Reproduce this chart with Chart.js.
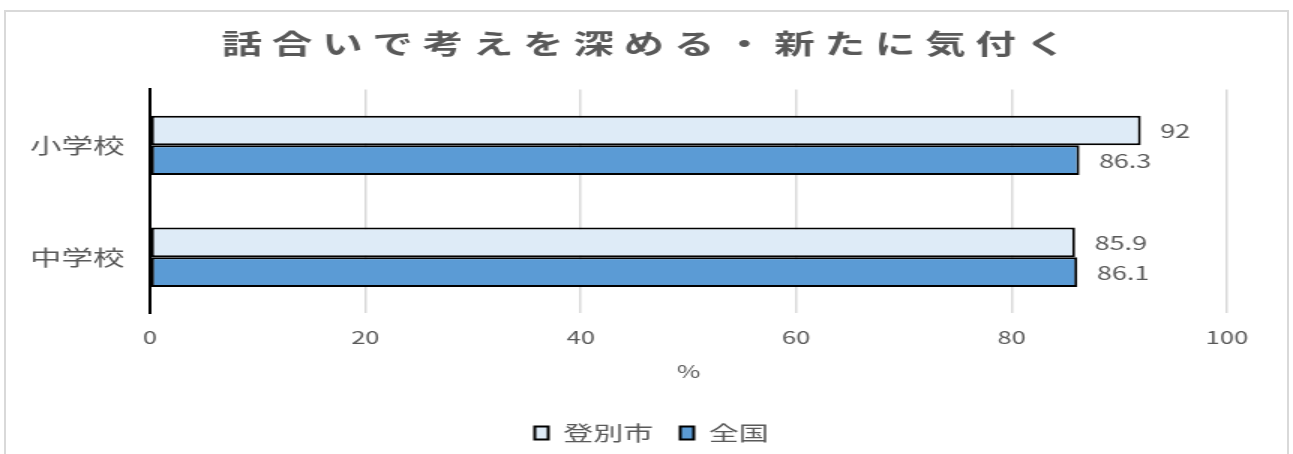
<!DOCTYPE html>
<html lang="ja">
<head>
<meta charset="UTF-8">
<title>話合いで考えを深める・新たに気付く</title>
<script src="https://cdn.jsdelivr.net/npm/chart.js"></script>
<style>
  html, body { margin: 0; padding: 0; background: #fff; }
  body { width: 1293px; height: 454px; position: relative; overflow: hidden; }
  .marco { position: absolute; left: 4px; top: 10px; width: 1281px; height: 470px; border: 2px solid #d9d9d9; }
  #grafico { position: absolute; left: 0; top: 0; }
</style>
</head>
<body>
<div class="marco"></div>
<!-- el lienzo se dibuja estrecho y se estira a lo ancho, como la imagen original -->
<canvas id="grafico" width="862" height="454" style="width:1293px;height:454px"></canvas>
<script>
const titulo = '話合いで考えを深める・新たに気付く';
const categorias = ['小学校', '中学校'];
const series = ['登別市', '全国'];
const valoresNoboribetsu = [92, 85.9];
const valoresNacional = [86.3, 86.1];
const ejeMin = 0;
const ejeMax = 100;
const ejePaso = 20;
const tituloEje = '%';

const fuente = "'Noto Sans CJK JP', 'Noto Sans', sans-serif";
const gris = '#595959';

// Título con espaciado entre letras y leyenda algo corrida (como en Excel)
const ajustesExcel = {
  id: 'ajustesExcel',
  afterInit(chart) {
    const envolver = (bloque, fn) => {
      if (!bloque) return;
      const dibujar = bloque.draw.bind(bloque);
      bloque.draw = function (area) {
        chart.ctx.save();
        fn(chart.ctx);
        dibujar(area);
        chart.ctx.restore();
      };
    };
    envolver(chart.titleBlock, (ctx) => { ctx.letterSpacing = '6.5px'; ctx.translate(22, 0); });
    envolver(chart.legend, (ctx) => { ctx.translate(24, 0); });
  }
};

// Etiquetas de valor a la derecha de cada barra
const etiquetasValores = {
  id: 'etiquetasValores',
  afterDatasetsDraw(chart) {
    const ctx = chart.ctx;
    ctx.save();
    ctx.font = '18px ' + fuente;
    ctx.fillStyle = gris;
    ctx.textAlign = 'left';
    ctx.textBaseline = 'middle';
    chart.data.datasets.forEach((ds, i) => {
      chart.getDatasetMeta(i).data.forEach((barra, j) => {
        ctx.fillText(String(ds.data[j]), barra.x + 13, barra.y + 1);
      });
    });
    ctx.restore();
  }
};

new Chart(document.getElementById('grafico').getContext('2d'), {
  type: 'bar',
  data: {
    labels: categorias,
    datasets: [
      {
        label: series[0],
        data: valoresNoboribetsu,
        backgroundColor: '#deebf7',
        borderColor: '#000000',
        borderWidth: 2,
        borderSkipped: false,
        categoryPercentage: 0.53,
        barPercentage: 1
      },
      {
        label: series[1],
        data: valoresNacional,
        backgroundColor: '#5b9bd5',
        borderColor: '#000000',
        borderWidth: 2,
        borderSkipped: false,
        categoryPercentage: 0.53,
        barPercentage: 1
      }
    ]
  },
  options: {
    indexAxis: 'y',
    responsive: false,
    animation: false,
    devicePixelRatio: 1,
    layout: { padding: { left: 3, right: 44, top: 0, bottom: 1 } },
    scales: {
      x: {
        min: ejeMin,
        max: ejeMax,
        ticks: { stepSize: ejePaso, padding: 14, color: gris, font: { family: fuente, size: 17 } },
        grid: { color: '#d9d9d9', lineWidth: 1.5, drawTicks: false },
        border: { display: false },
        title: {
          display: true,
          text: tituloEje,
          color: gris,
          font: { family: fuente, size: 17 },
          padding: { top: 0, bottom: 23 }
        }
      },
      y: {
        ticks: { padding: 17, color: gris, font: { family: fuente, size: 21 } },
        grid: { display: false, drawTicks: false },
        border: { display: true, color: '#000000', width: 2 }
      }
    },
    plugins: {
      title: {
        display: true,
        text: titulo,
        color: gris,
        font: { family: fuente, size: 27, weight: 'bold' },
        padding: { top: 28, bottom: 29 }
      },
      legend: {
        position: 'bottom',
        labels: {
          color: gris,
          font: { family: fuente, size: 20 },
          boxWidth: 9,
          boxHeight: 13,
          padding: 18
        }
      },
      tooltip: { enabled: false }
    }
  },
  plugins: [ajustesExcel, etiquetasValores]
});
</script>
</body>
</html>
